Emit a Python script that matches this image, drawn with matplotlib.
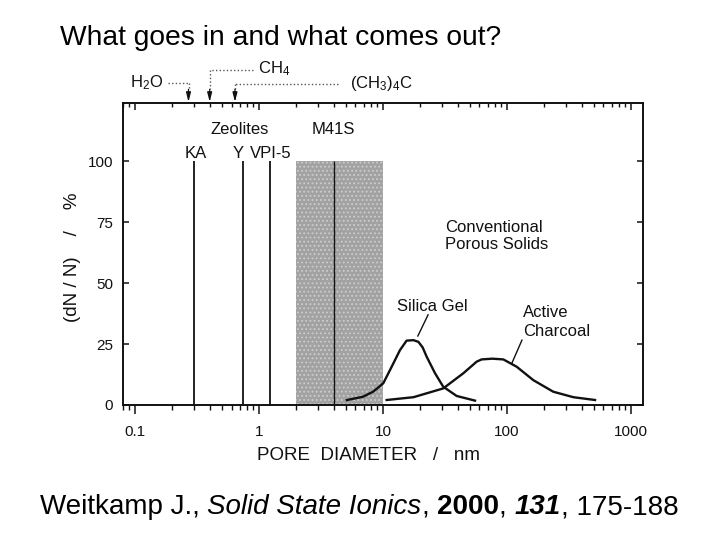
import matplotlib
matplotlib.use("Agg")
import matplotlib.pyplot as plt

# ── data ──────────────────────────────────────────────────────────────────────
zeolite_names = ["KA", "Y", "VPI-5"]
zeolite_pores = [0.30, 0.74, 1.23]          # nm
m41s_range = [2.0, 10.0]                    # nm, shaded band
m41s_pore = 4.0

silica_d = [5.1, 6.9, 8.35, 10.05, 11.75, 13.7, 15.5, 17.6, 19.3, 20.9, 22.5, 26.3, 30.6, 39.3, 55.2]
silica_y = [2.0, 3.4, 5.5, 8.9, 15.7, 22.5, 26.4, 26.6, 25.9, 23.6, 19.8, 13.0, 7.5, 3.7, 1.8]

charcoal_d = [10.7, 17.6, 30.6, 44.4, 57.0, 62.5, 76.0, 93.4, 119.7, 163.0, 236.0, 343.0, 513.0]
charcoal_y = [2.05, 3.2, 6.8, 13.0, 17.8, 18.7, 19.0, 18.7, 15.7, 10.2, 5.45, 3.2, 2.05]

molecules = ["H$_2$O", "CH$_4$", "(CH$_3$)$_4$C"]
molecule_d = [0.27, 0.40, 0.64]             # kinetic diameters, nm

y_ticks = [0, 25, 50, 75, 100]
x_ticks = [0.1, 1, 10, 100, 1000]
x_ticklabels = ["0.1", "1", "10", "100", "1000"]

INK = "#111111"
FONT = "Liberation Sans"

plt.rcParams["font.family"] = [FONT, "DejaVu Sans"]
plt.rcParams["mathtext.fontset"] = "custom"
plt.rcParams["mathtext.rm"] = FONT
plt.rcParams["mathtext.it"] = FONT + ":italic"
plt.rcParams["hatch.linewidth"] = 0.8

fig = plt.figure(figsize=(7.2, 5.4), dpi=100)
ax = fig.add_axes([123 / 720, 135 / 540, 520 / 720, 302.3 / 540])

# ── marks ─────────────────────────────────────────────────────────────────────
ax.fill_between(m41s_range, 0, 100, facecolor="#a2a2a2", edgecolor="#cdcdcd",
                hatch="....", linewidth=0, zorder=1)
ax.vlines(zeolite_pores, 0, 100, color=INK, linewidth=1.3, zorder=2)
ax.vlines([m41s_pore], 0, 100, color=INK, linewidth=1.0, zorder=2)
ax.plot(silica_d, silica_y, color=INK, linewidth=1.7, zorder=3)
ax.plot(charcoal_d, charcoal_y, color=INK, linewidth=1.7, zorder=3)

# ── axes ──────────────────────────────────────────────────────────────────────
ax.set_xscale("log")
ax.set_xlim(0.08, 1250)
ax.set_ylim(0.4, 124)
ax.set_xticks(x_ticks)
ax.set_xticklabels(x_ticklabels)
ax.set_yticks(y_ticks)
for s in ax.spines.values():
    s.set_linewidth(1.4)
    s.set_color(INK)
ax.tick_params(axis="x", which="major", direction="out", length=6.5, width=1.1,
               labelsize=11, pad=8, colors=INK)
ax.tick_params(axis="x", which="minor", direction="out", length=3.6, width=1.0, colors=INK)
ax.tick_params(axis="y", direction="in", length=4.5, width=1.1, right=True,
               labelsize=11, pad=7, colors=INK)

top = ax.twiny()
top.set_xscale("log")
top.set_xlim(ax.get_xlim())
top.set_xticks(x_ticks)
top.tick_params(axis="x", which="major", direction="in", length=5, width=1.1,
                labeltop=False, colors=INK)
top.tick_params(axis="x", which="minor", direction="in", length=3, width=1.0, colors=INK)
for s in top.spines.values():
    s.set_visible(False)

ax.set_xlabel("PORE  DIAMETER   /   nm", fontsize=13.5, color=INK)
ax.xaxis.set_label_coords(0.473, -0.14)
ax.set_ylabel("(dN / N)    /    %", fontsize=13.5, color=INK)
ax.yaxis.set_label_coords(-0.08, 0.49)

# ── annotations inside the plot ───────────────────────────────────────────────
lab = dict(fontsize=12, color=INK)
label_x = [0.31, 0.68, 1.25]
for name, d in zip(zeolite_names, label_x):
    ax.text(d, 101.2, name, ha="center", va="baseline", **lab)
ax.text(0.70, 111.3, "Zeolites", ha="center", va="baseline", **lab)
ax.text(m41s_pore, 111.3, "M41S", ha="center", va="baseline", **lab)
ax.text(31.6, 71.0, "Conventional", ha="left", va="baseline", **lab)
ax.text(31.6, 63.8, "Porous Solids", ha="left", va="baseline", **lab)
ax.text(13.0, 38.5, "Silica Gel", ha="left", va="baseline", **lab)
ax.text(134, 35.9, "Active", ha="left", va="baseline", **lab)
ax.text(134, 28.3, "Charcoal", ha="left", va="baseline", **lab)
ax.plot([23.1, 19.1], [37.0, 28.3], color=INK, linewidth=1.0)
ax.plot([132, 109.6], [26.6, 17.2], color=INK, linewidth=1.0)

# ── molecule arrows above the frame ───────────────────────────────────────────
dot = dict(color="#555555", linewidth=1.0, linestyle=(0, (1, 1.6)), clip_on=False)
arrow = dict(arrowstyle="-|>,head_length=0.55,head_width=0.14", color=INK,
             linewidth=0.9, shrinkA=0, shrinkB=0)
label_y = [132.2, 137.3, 131.8]
line_end = [0.186, 0.90, 4.36]
for name, d, yl, xe in zip(molecules, molecule_d, label_y, line_end):
    ax.plot([xe, d], [yl, yl], **dot)
    ax.plot([d, d], [yl, 129.5], **dot)
    ax.annotate("", xy=(d, 124.3), xytext=(d, 129.5), arrowprops=arrow,
                annotation_clip=False)
ax.text(0.169, 130.2, molecules[0], ha="right", va="baseline", **lab)
ax.text(0.987, 135.9, molecules[1], ha="left", va="baseline", **lab)
ax.text(5.42, 130.2, molecules[2], ha="left", va="baseline", **lab)

# ── slide title and citation ──────────────────────────────────────────────────
fig.text(60 / 720, 1 - 45 / 540, "What goes in and what comes out?",
         fontsize=20.3, color="black", va="baseline", ha="left")

cite = [("Weitkamp J., ", "normal", "normal"),
        ("Solid State Ionics", "italic", "normal"),
        (", ", "normal", "normal"),
        ("2000", "normal", "bold"),
        (", ", "normal", "normal"),
        ("131", "italic", "bold"),
        (", 175-188", "normal", "normal")]
renderer = fig.canvas.get_renderer()
pieces = []
total = 0.0
for txt, style, weight in cite:
    t = fig.text(0, 1 - 514 / 540, txt, fontsize=20, style=style, weight=weight,
                 va="baseline", ha="left", color="black")
    w = t.get_window_extent(renderer).width
    pieces.append((t, w))
    total += w
x = 359 - total / 2
for t, w in pieces:
    t.set_x(x / 720)
    x += w

fig.savefig("out.png", dpi=100)
